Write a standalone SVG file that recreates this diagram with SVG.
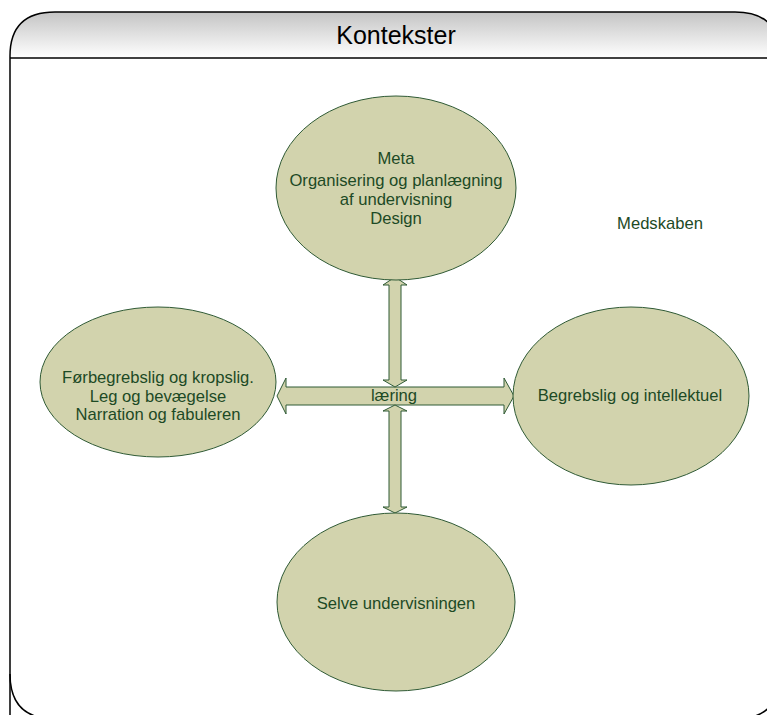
<svg xmlns="http://www.w3.org/2000/svg" width="767" height="715" viewBox="0 0 767 715">
<style>
.node{fill:#d2d3ad;stroke:#2f5a35;stroke-width:1}
.t{font-family:"Liberation Sans",Arial,sans-serif;font-size:16.6px;fill:#1d4a25;text-anchor:middle}
.arr{fill:#d2d3ad;stroke:#2f5a35;stroke-width:1}
</style>
<defs>
<linearGradient id="hg" x1="0" y1="0" x2="0" y2="1">
<stop offset="0" stop-color="#c4c4c4"/>
<stop offset="1" stop-color="#ffffff"/>
</linearGradient>
</defs>
<g id="frame">
<path d="M10,58 L10,56 Q10,12 55,12 L735,12 Q780,12 780,56 L780,58 Z" fill="url(#hg)"/>
<path d="M10,719 L10,56 Q10,12 55,12 L735,12 Q780,12 780,56 L780,719" fill="none" stroke="#000" stroke-width="1.5"/>
<path d="M10,674 Q10,719 55,719 L735,719 Q780,719 780,674" fill="none" stroke="#000" stroke-width="1.5"/>
<line x1="10" y1="58" x2="780" y2="58" stroke="#000" stroke-width="1.5"/>
<text x="396" y="44" font-family="Liberation Sans,Arial,sans-serif" font-size="25" text-anchor="middle" fill="#000">Kontekster</text>
</g>
<g id="connectors">
<path class="arr" d="M277,396 L286,378 L286,387 L504,387 L504,378 L514,396 L504,414 L504,405 L286,405 L286,414 Z"/>
<path class="arr" d="M395,277 L407,285 L401,285 L401,380 L407,380 L395,387 L383,380 L389,380 L389,285 L383,285 Z"/>
<path class="arr" d="M395,405 L407,411 L401,411 L401,507 L407,507 L395,513 L383,507 L389,507 L389,411 L383,411 Z"/>
<text class="t" x="394" y="401">læring</text>
</g>
<g id="meta">
<ellipse class="node" cx="396" cy="188" rx="120" ry="92"/>
<text class="t" x="396" y="164">Meta</text>
<text class="t" x="396" y="186">Organisering og planlægning</text>
<text class="t" x="396" y="205">af undervisning</text>
<text class="t" x="396" y="224">Design</text>
</g>
<g id="foerbegrebslig">
<ellipse class="node" cx="158" cy="382" rx="118" ry="75"/>
<text class="t" x="158" y="383">Førbegrebslig og kropslig.</text>
<text class="t" x="158" y="402">Leg og bevægelse</text>
<text class="t" x="158" y="420">Narration og fabuleren</text>
</g>
<g id="begrebslig">
<ellipse class="node" cx="631" cy="396" rx="118" ry="89"/>
<text class="t" x="630" y="401">Begrebslig og intellektuel</text>
</g>
<g id="selve">
<ellipse class="node" cx="396" cy="602" rx="119" ry="89"/>
<text class="t" x="396" y="609">Selve undervisningen</text>
</g>
<g id="medskaben">
<text class="t" x="660" y="229">Medskaben</text>
</g>
</svg>
